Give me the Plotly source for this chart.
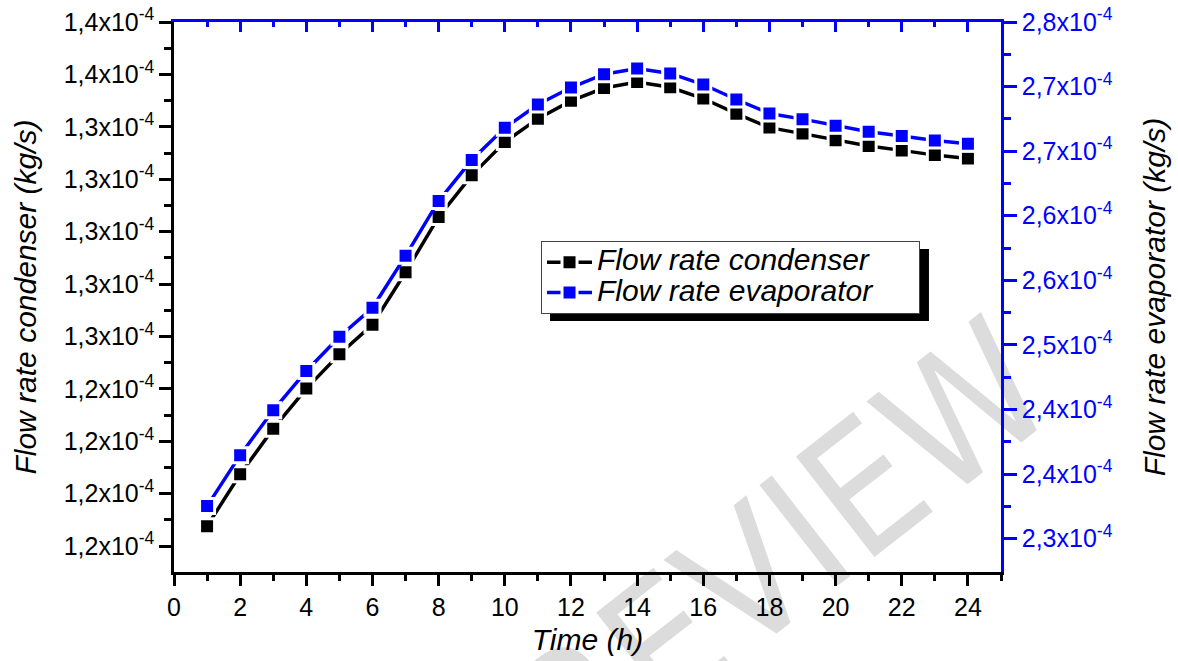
import plotly.graph_objects as go

# ---------------- data ----------------
time_h = [1, 2, 3, 4, 5, 6, 7, 8, 9, 10, 11, 12, 13, 14, 15, 16, 17, 18, 19, 20, 21, 22, 23, 24]
flow_condenser = [1.1876e-4, 1.2074e-4, 1.2248e-4, 1.2401e-4, 1.2532e-4, 1.2645e-4, 1.2845e-4, 1.3056e-4,
                  1.3215e-4, 1.3342e-4, 1.3431e-4, 1.3499e-4, 1.3548e-4, 1.3571e-4, 1.3551e-4, 1.3508e-4,
                  1.3450e-4, 1.3397e-4, 1.3374e-4, 1.3349e-4, 1.3327e-4, 1.3310e-4, 1.3292e-4, 1.3279e-4]
flow_evaporator = [2.3315e-4, 2.3808e-4, 2.4242e-4, 2.4623e-4, 2.4954e-4, 2.5234e-4, 2.5737e-4, 2.6268e-4,
                   2.6664e-4, 2.6976e-4, 2.7202e-4, 2.7366e-4, 2.7495e-4, 2.7550e-4, 2.7502e-4, 2.7395e-4,
                   2.7250e-4, 2.7115e-4, 2.7060e-4, 2.6996e-4, 2.6938e-4, 2.6896e-4, 2.6854e-4, 2.6822e-4]

left_tickvals = [1.18e-4, 1.20e-4, 1.22e-4, 1.24e-4, 1.26e-4, 1.28e-4, 1.30e-4, 1.32e-4, 1.34e-4, 1.36e-4, 1.38e-4]
left_ticktext = ["1,2x10<sup>-4</sup>", "1,2x10<sup>-4</sup>", "1,2x10<sup>-4</sup>", "1,2x10<sup>-4</sup>",
                 "1,3x10<sup>-4</sup>", "1,3x10<sup>-4</sup>", "1,3x10<sup>-4</sup>", "1,3x10<sup>-4</sup>",
                 "1,3x10<sup>-4</sup>", "1,4x10<sup>-4</sup>", "1,4x10<sup>-4</sup>"]
left_minor = [1.17e-4, 1.19e-4, 1.21e-4, 1.23e-4, 1.25e-4, 1.27e-4, 1.29e-4, 1.31e-4, 1.33e-4, 1.35e-4, 1.37e-4]

right_tickvals = [2.3e-4, 2.3625e-4, 2.425e-4, 2.4875e-4, 2.55e-4, 2.6125e-4, 2.675e-4, 2.7375e-4, 2.8e-4]
right_ticktext = ["2,3x10<sup>-4</sup>", "2,4x10<sup>-4</sup>", "2,4x10<sup>-4</sup>", "2,5x10<sup>-4</sup>",
                  "2,6x10<sup>-4</sup>", "2,6x10<sup>-4</sup>", "2,7x10<sup>-4</sup>", "2,7x10<sup>-4</sup>",
                  "2,8x10<sup>-4</sup>"]
right_minor = [2.33125e-4, 2.39375e-4, 2.45625e-4, 2.51875e-4, 2.58125e-4, 2.64375e-4, 2.70625e-4, 2.76875e-4]

series_names = ['<span style="font-size:30px">Flow rate condenser</span>',
                '<span style="font-size:30px">Flow rate evaporator&nbsp;&nbsp;&nbsp;&nbsp;&nbsp;</span>']

FONT = "Liberation Sans, Arial, sans-serif"
BLUE = "#0000ff"

fig = go.Figure()
fig.add_trace(go.Scatter(
    x=time_h, y=flow_condenser, name=series_names[0], mode="lines+markers",
    line=dict(color="black", width=3.5),
    marker=dict(symbol="square", size=15, color="black", line=dict(color="white", width=3)),
    xaxis="x", yaxis="y"))
fig.add_trace(go.Scatter(
    x=time_h, y=flow_evaporator, name=series_names[1], mode="lines+markers",
    line=dict(color=BLUE, width=3.5),
    marker=dict(symbol="square", size=15, color=BLUE, line=dict(color="white", width=3)),
    xaxis="x2", yaxis="y2"))

tickfont = dict(family=FONT, size=25, color="black")

fig.update_layout(
    width=1178, height=661, autosize=False,
    margin=dict(l=174, r=177, t=22, b=89),
    paper_bgcolor="white", plot_bgcolor="white",
    font=dict(family=FONT, color="black"),
    showlegend=True,
    xaxis=dict(range=[0, 25], tickmode="linear", tick0=0, dtick=2,
               showline=True, linecolor="black", linewidth=2.5,
               ticks="outside", ticklen=11, tickwidth=2.5, tickcolor="black",
               minor=dict(ticks="outside", ticklen=6.5, tickwidth=2.5, tickcolor="black", dtick=1, tick0=0),
               showgrid=False, zeroline=False, tickfont=tickfont, automargin=False,
               title=dict(text="Time (h)", font=dict(family=FONT, size=30, style="italic", color="black"),
                          standoff=10)),
    xaxis2=dict(range=[0, 25], overlaying="x", side="top", anchor="y2", matches="x",
                tickmode="linear", tick0=0, dtick=2,
                showline=True, linecolor=BLUE, linewidth=2.5,
                ticks="inside", ticklen=10.5, tickwidth=2.5, tickcolor=BLUE,
                minor=dict(ticks="inside", ticklen=5, tickwidth=2.5, tickcolor=BLUE, dtick=1, tick0=0),
                showticklabels=False, showgrid=False, zeroline=False),
    yaxis=dict(range=[1.1701e-4, 1.38e-4], tickmode="array", tickvals=left_tickvals, ticktext=left_ticktext,
               showline=True, linecolor="black", linewidth=2.5,
               ticks="outside", ticklen=12, tickwidth=2.5, tickcolor="black",
               minor=dict(ticks="outside", ticklen=7, tickwidth=2.5, tickcolor="black",
                          tickmode="array", tickvals=left_minor),
               showgrid=False, zeroline=False, tickfont=tickfont, automargin=False,
               title=dict(text="Flow rate condenser (kg/s)",
                          font=dict(family=FONT, size=30, style="italic", color="black"), standoff=19)),
    yaxis2=dict(range=[2.2677e-4, 2.80e-4], overlaying="y", side="right", anchor="x2",
                tickmode="array", tickvals=right_tickvals, ticktext=right_ticktext,
                showline=True, linecolor=BLUE, linewidth=2.5,
                ticks="outside", ticklen=13, tickwidth=2.5, tickcolor=BLUE,
                minor=dict(ticks="outside", ticklen=7, tickwidth=2.5, tickcolor=BLUE,
                           tickmode="array", tickvals=right_minor),
                showgrid=False, zeroline=False, tickfont=dict(family=FONT, size=25, color=BLUE),
                automargin=False,
                title=dict(text="Flow rate evaporator (kg/s)",
                           font=dict(family=FONT, size=30, style="italic", color="black"), standoff=33)),
    legend=dict(x=0.4438, y=0.6018, xanchor="left", yanchor="top",
                bgcolor="white", bordercolor="#444444", borderwidth=1,
                font=dict(family=FONT, size=21, style="italic", color="black"),
                tracegroupgap=0, itemwidth=45),
)

# legend drop shadow
fig.add_shape(type="rect", xref="paper", yref="paper",
              x0=0.4547, x1=0.9129, y0=0.4564, y1=0.5873,
              fillcolor="black", line=dict(width=0), layer="above")

# watermark of the source image
fig.add_shape(type="rect", xref="paper", yref="paper", x0=0.651, x1=0.711, y0=-0.028, y1=0.032,
              line=dict(width=0), fillcolor="rgba(0,0,0,0)", layer="below",
              label=dict(text="PREVIEW", textposition="middle center", textangle=-38,
                         font=dict(family="DejaVu Sans Condensed, DejaVu Sans", size=175, color="#dcdcdc")))

fig.write_html("out.html", config={"displayModeBar": False},
               post_script="document.body.style.margin='0';document.body.style.overflow='hidden';")
